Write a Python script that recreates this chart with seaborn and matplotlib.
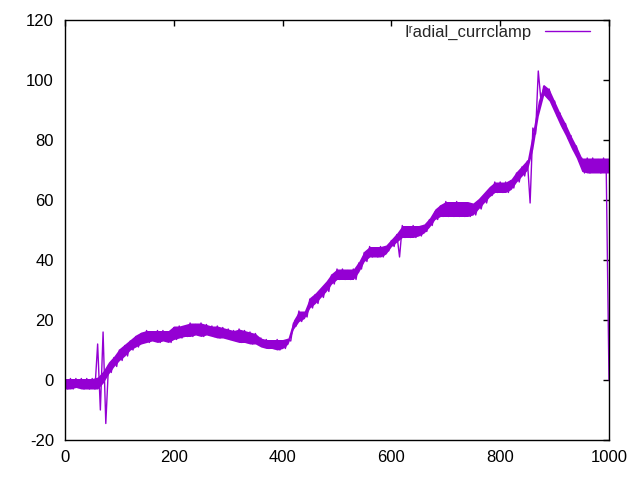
import numpy as np
import pandas as pd
import matplotlib
matplotlib.use("Agg")
import matplotlib.pyplot as plt
import seaborn as sns

# sample times, one reading every 5 units
step = 5
# readings (upper / lower edge of the noise band in turn)
current = [
    0.5, -3, 0.5, -3, 0.5, -2.5, 0.5, -3, 0.5, -3,              # 0
    0.5, -3, 12, -10, 16, -14.5, 5, 2.5, 7.5, 4.5,              # 50
    10, 6.5, 11.5, 8, 13, 10, 14.5, 11, 15.5, 12.5,             # 100
    16.5, 12.5, 16, 13, 16.5, 12.5, 16.5, 13, 16, 12.5,         # 150
    17.5, 13.5, 18, 14, 17.5, 14.5, 19, 14.5, 18.5, 15,         # 200
    19, 14.5, 18.5, 15, 18, 14.5, 18, 14, 17.5, 14,             # 250
    17, 13.5, 16.5, 13, 17, 12.5, 16.5, 12.5, 16, 12,           # 300
    15.5, 12, 14, 11, 13.5, 10.5, 13, 10.5, 13.5, 10,           # 350
    13, 10.5, 13.5, 13, 19, 18, 23, 19.5, 22.5, 21,             # 400
    27, 24, 28.5, 25.5, 30, 27.5, 32, 29.5, 35, 32,             # 450
    37, 33.5, 37, 33.5, 36.5, 33.5, 37, 33.5, 39, 37,           # 500
    42.5, 39.5, 44.5, 41, 44, 41, 44.5, 41, 44, 43,             # 550
    46.5, 44.5, 48.5, 41, 51.5, 47.5, 51, 47.5, 51.5, 47.5,     # 600
    51, 48, 51.5, 49.5, 53.5, 51.5, 56, 53.5, 58, 54.5,         # 650
    59.5, 54.5, 59, 54.5, 59.5, 54.5, 59, 54.5, 59, 54.5,       # 700
    58.5, 55, 59, 57, 61, 59, 63, 61.5, 66, 62.5,               # 750
    66, 62.5, 66, 62.5, 66.5, 64, 69, 66, 71, 68,               # 800
    73, 59, 84, 82, 103, 93, 98, 95, 97, 92.5,                  # 850
    93, 88, 89, 84, 85.5, 80.5, 81.5, 76.5, 78, 73,             # 900
    74, 69, 74, 69, 74, 69.5, 73.5, 69, 74, 69,                 # 950
    0,                                                          # 1000
]
time = np.arange(len(current)) * step

# edges of the dense noise band, read every 10 units (spikes left out)
band_step = 10
band_lo = [
    -3, -3, -2.5, -3, -3, -3, -3, -1, 2, 4.5,                   # 0
    6.5, 8, 10, 11, 12, 12.5, 13, 12.5, 13, 12.5,               # 100
    13.5, 14, 14.5, 14.5, 15, 14.5, 15, 14.5, 14, 14,           # 200
    13.5, 13, 12.5, 12.5, 12, 12, 11, 10.5, 10.5, 10,           # 300
    10.5, 12, 17, 19.5, 20.5, 24, 25.5, 27.5, 29.5, 32,         # 400
    33.5, 33.5, 33.5, 33.5, 36, 39.5, 41, 41, 41, 42,           # 500
    44.5, 46, 47.5, 47.5, 47.5, 48, 49, 51, 53.5, 54.5,         # 600
    54.5, 54.5, 54.5, 54.5, 54.5, 55, 57, 59, 61, 62.5,         # 700
    62.5, 62.5, 63.5, 66, 68, 70, 77, 88, 95, 93,               # 800
    89, 85, 81.5, 77.5, 74, 69.5, 69, 69, 69, 69,               # 900
    69,                                                         # 1000
]
band_hi = [
    0.5, 0.5, 0.5, 0.5, 0.5, 0.5, 1, 3, 6, 8,                   # 0
    10.5, 12, 13.5, 15, 16, 16.5, 16.5, 16.5, 16.5, 16.5,       # 100
    18, 18, 18.5, 19, 19, 19, 18.5, 18, 18, 17.5,               # 200
    17, 16.5, 17, 16.5, 16, 15.5, 14, 13.5, 13.5, 13.5,         # 300
    13.5, 14, 20, 23, 23, 27.5, 29, 31, 33, 35.5,               # 400
    37, 37, 37, 37, 39.5, 43, 44.5, 44.5, 44.5, 45,             # 500
    47, 49, 51.5, 51.5, 51.5, 51.5, 52, 54, 57, 58.5,           # 600
    59.5, 59.5, 59.5, 59.5, 59.5, 59, 60.5, 62.5, 64.5, 66,     # 700
    66, 66, 67, 69.5, 71.5, 73.5, 83, 93, 98.5, 97,             # 800
    93, 89, 85.5, 81.5, 78, 74, 74, 74, 74, 74,                 # 900
    74,                                                         # 1000
]
band_t = np.arange(len(band_lo)) * band_step

xticks = [0, 200, 400, 600, 800, 1000]
yticks = [-20, 0, 20, 40, 60, 80, 100, 120]
label = "I\u02b3adial_currclamp"
color = "#9400d3"

df = pd.DataFrame({"t": time, "I": current})
band = pd.DataFrame({"t": np.concatenate([band_t, band_t]),
                     "I": band_lo + band_hi})

sns.set_theme(style="white")
plt.rcParams["font.family"] = ["Liberation Sans Narrow", "Liberation Sans", "DejaVu Sans"]
plt.rcParams["axes.unicode_minus"] = False

fig = plt.figure(figsize=(6.4, 4.8), dpi=100)
ax = fig.add_axes([65 / 640, 40 / 480, 544 / 640, 420 / 480])

# band: min..max of the two edges at each time
sns.lineplot(data=band, x="t", y="I", ax=ax, color=color, lw=0,
             errorbar=("pi", 100), err_kws={"alpha": 1, "lw": 0},
             legend=False)
sns.lineplot(data=df, x="t", y="I", ax=ax, color=color, lw=1,
             label=label, sort=False)

ax.set_xlim(0, 1000)
ax.set_ylim(-20, 120)
ax.set_xticks(xticks)
ax.set_yticks(yticks)
ax.set_xlabel("")
ax.set_ylabel("")
for s in ax.spines.values():
    s.set_color("black")
    s.set_linewidth(1)
ax.tick_params(direction="in", length=4, width=1, color="black",
               top=True, right=True, labelsize=12, labelcolor="black")
ax.tick_params(axis="x", pad=7)
ax.tick_params(axis="y", pad=8)

handles, labels = ax.get_legend_handles_labels()
ax.legend(handles[-1:], labels[-1:], loc="center right",
          bbox_to_anchor=(0.965, 0.971), frameon=False, markerfirst=False,
          handlelength=2.7, handletextpad=0.8, borderpad=0,
          borderaxespad=0, fontsize=12)

fig.savefig("out.png", dpi=100)
